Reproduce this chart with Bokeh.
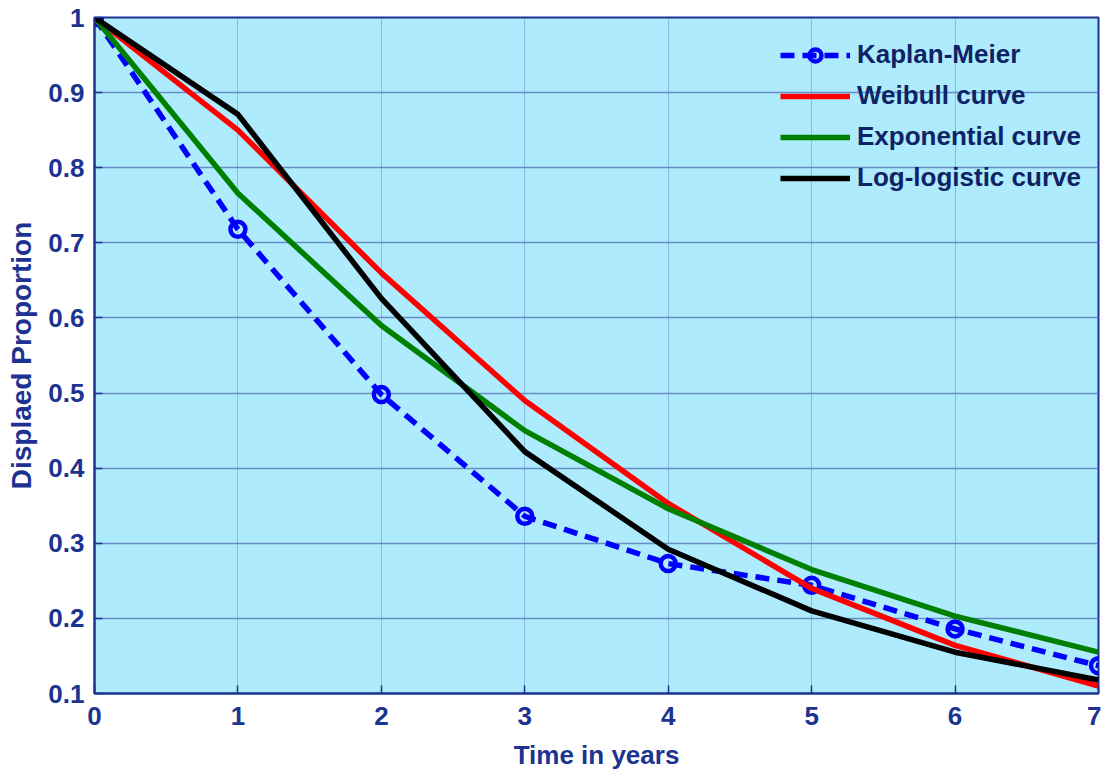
from bokeh.plotting import figure
from bokeh.models import FixedTicker, Legend, LegendItem, Range1d
from bokeh.embed import file_html
from bokeh.resources import INLINE

years = [0, 1, 2, 3, 4, 5, 6, 7]
kaplan_meier = [1.0, 0.718, 0.498, 0.336, 0.273, 0.244, 0.186, 0.137]
weibull = [1.0, 0.850, 0.660, 0.490, 0.353, 0.240, 0.164, 0.110]
exponential = [1.0, 0.766, 0.590, 0.450, 0.346, 0.265, 0.203, 0.155]
log_logistic = [1.0, 0.871, 0.626, 0.422, 0.292, 0.210, 0.155, 0.118]

y_ticks = [0.1, 0.2, 0.3, 0.4, 0.5, 0.6, 0.7, 0.8, 0.9, 1.0]
y_tick_labels = ["0.1", "0.2", "0.3", "0.4", "0.5", "0.6", "0.7", "0.8", "0.9", "1"]

NAVY = "#1c3391"
FONT = "Liberation Sans"

p = figure(width=1101, height=773, output_backend="svg", toolbar_location=None,
           x_range=Range1d(0, 7), y_range=Range1d(0.1, 1.0),
           min_border_left=94, min_border_right=3, min_border_top=17, min_border_bottom=80)

p.background_fill_color = "#aeebfc"
p.border_fill_color = "white"
p.outline_line_color = NAVY
p.outline_line_width = 2

p.xgrid.grid_line_color = "#5577bb"
p.xgrid.grid_line_alpha = 0.8
p.xgrid.grid_line_dash = "1 1"
p.ygrid.grid_line_color = "#5577bb"
p.ygrid.grid_line_alpha = 0.8
p.ygrid.grid_line_width = 1.5

p.xaxis.ticker = FixedTicker(ticks=years)
p.yaxis.ticker = FixedTicker(ticks=y_ticks)
p.yaxis.major_label_overrides = {t: l for t, l in zip(y_ticks, y_tick_labels)}

for ax in (p.xaxis[0], p.yaxis[0]):
    ax.axis_line_color = NAVY
    ax.axis_line_width = 2
    ax.major_tick_in = 8
    ax.major_tick_out = 0
    ax.major_tick_line_color = NAVY
    ax.major_tick_line_width = 1.5
    ax.minor_tick_line_color = None
    ax.major_label_text_font = FONT
    ax.major_label_text_font_style = "bold"
    ax.major_label_text_font_size = "26px"
    ax.major_label_text_color = NAVY
    ax.axis_label_text_font = FONT
    ax.axis_label_text_font_style = "bold"
    ax.axis_label_text_color = NAVY

p.xaxis.axis_label = "Time in years"
p.xaxis.axis_label_text_font_size = "26px"
p.xaxis.major_label_standoff = 13
p.xaxis.axis_label_standoff = 12
p.yaxis.axis_label = "Displaed Proportion"
p.yaxis.axis_label_text_font_size = "28px"
p.yaxis.major_label_standoff = 10
p.yaxis.axis_label_standoff = 8

km_line = p.line(years, kaplan_meier, line_color="#0000ff", line_width=5.5, line_dash="14 8")
km_mark = p.scatter(years, kaplan_meier, marker="circle", size=15, line_color="#0000ff",
                    line_width=4.5, fill_color=None)
wb = p.line(years, weibull, line_color="#ff0000", line_width=5.5)
ex = p.line(years, exponential, line_color="#008000", line_width=5.5)
ll = p.line(years, log_logistic, line_color="#000000", line_width=5.5)

legend = Legend(items=[
    LegendItem(label="Kaplan-Meier", renderers=[km_line, km_mark]),
    LegendItem(label="Weibull curve", renderers=[wb]),
    LegendItem(label="Exponential curve", renderers=[ex]),
    LegendItem(label="Log-logistic curve", renderers=[ll]),
], location=(686, 500))
legend.background_fill_alpha = 0
legend.border_line_color = None
legend.label_text_font = FONT
legend.label_text_font_style = "bold"
legend.label_text_font_size = "26px"
legend.label_text_color = "#0d2366"
legend.glyph_width = 70
legend.glyph_height = 30
legend.label_height = 30
legend.spacing = 10
legend.label_standoff = 7
legend.margin = 0
legend.padding = 0
p.add_layout(legend)

open("out.html", "w").write(file_html(p, INLINE))
